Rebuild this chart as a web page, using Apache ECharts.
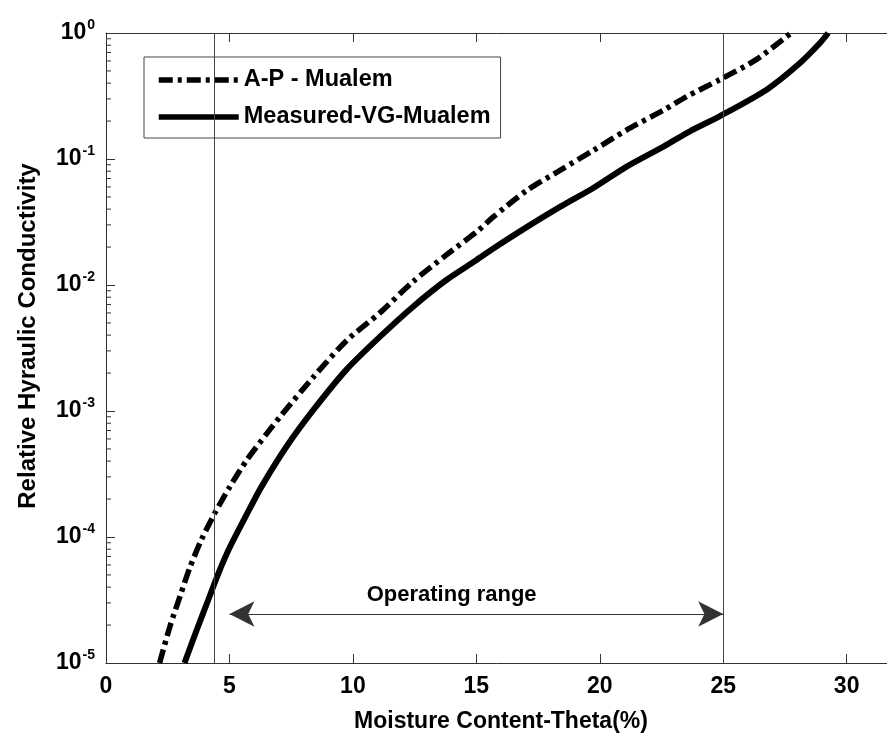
<!DOCTYPE html>
<html>
<head>
<meta charset="utf-8">
<script src="https://cdn.jsdelivr.net/npm/echarts@6/dist/echarts.min.js"></script>
<style>
  html, body { margin: 0; padding: 0; background: #fff; }
  #chart { width: 887px; height: 734px; }
</style>
</head>
<body>
<div id="chart"></div>
<script>
// Relative hydraulic conductivity vs. volumetric moisture content
const seriesNames = ['A-P - Mualem', 'Measured-VG-Mualem'];

// A-P - Mualem curve: moisture content (%) and relative conductivity
const thetaAP = [2.17, 2.59, 3.0, 3.4, 3.87, 4.41, 5.02, 5.7, 6.51, 7.05, 8.4, 9.75, 11.1, 12.45, 13.8, 15.0, 15.69, 17.04, 18.39, 19.74, 21.09, 22.6, 23.52, 24.87, 26.35, 27.75];
const kAP     = [1.0e-5, 1.95e-5, 3.39e-5, 5.75e-5, 9.55e-5, 1.55e-4, 2.51e-4, 4.07e-4, 6.61e-4, 9.0e-4, 1.86e-3, 3.63e-3, 6.03e-3, 1.07e-2, 1.74e-2, 2.63e-2, 3.47e-2, 5.62e-2, 8.13e-2, 0.117, 0.170, 0.245, 0.313, 0.427, 0.617, 1.0];

// Measured-VG-Mualem curve
const thetaVG = [3.18, 3.67, 4.14, 4.55, 5.02, 5.7, 6.3, 7.32, 8.4, 9.75, 11.1, 12.45, 13.8, 15.01, 15.69, 17.04, 18.39, 19.74, 21.09, 22.6, 23.65, 24.87, 26.76, 28.1, 28.92, 29.25];
const kVG     = [1.0e-5, 1.82e-5, 3.16e-5, 5.13e-5, 8.32e-5, 1.51e-4, 2.51e-4, 5.25e-4, 1.02e-3, 2.14e-3, 3.89e-3, 6.76e-3, 1.10e-2, 1.58e-2, 1.95e-2, 2.88e-2, 4.17e-2, 5.89e-2, 8.71e-2, 0.126, 0.166, 0.219, 0.355, 0.575, 0.832, 1.0];

// Operating range: bounding moisture contents and the arrow between them
const rangeBounds = [4.4, 25];
const arrowEnds = [5, 25];
const arrowLevel = 2.45e-5;
const rangeLabel = 'Operating range';
const rangeLabelAt = [14.0, 3.5e-5];

// Axis text
const xTitle = 'Moisture Content-Theta(%)';
const yTitle = 'Relative Hyraulic Conductivity';
const xTicks = [0, 5, 10, 15, 20, 25, 30];
const yDecades = [-5, -4, -3, -2, -1, 0];

const FONT = '"Liberation Sans", Arial, Helvetica, sans-serif';

const zip = (xs, ys) => xs.map((x, i) => [x, ys[i]]);

// Minor tick positions for the log axis (2..9 in each decade)
const minorTicks = [];
for (let d = yDecades[0]; d < yDecades[yDecades.length - 1]; d++) {
  for (let m = 2; m <= 9; m++) minorTicks.push([0, m * Math.pow(10, d)]);
}

const chart = echarts.init(document.getElementById('chart'), null, { renderer: 'canvas' });

const axisLineStyle = { color: '#333', width: 1 };

chart.setOption({
  animation: false,
  backgroundColor: '#fff',
  grid: { left: 106, top: 33, width: 790, height: 630, outerBoundsMode: 'none', containLabel: false },
  legend: {
    data: seriesNames,
    orient: 'vertical',
    left: 144,
    top: 57,
    padding: [11, 10, 9, 12],
    itemWidth: 80,
    itemHeight: 20,
    itemGap: 13,
    backgroundColor: '#fff',
    borderColor: '#444',
    borderWidth: 1,
    lineStyle: { width: 5.5 },
    itemStyle: { opacity: 0 },
    textStyle: { fontFamily: FONT, fontSize: 23.5, fontWeight: 'bold', color: '#000' }
  },
  xAxis: [
    {
      type: 'value',
      min: 0, max: 32, interval: 5,
      name: xTitle,
      nameLocation: 'middle',
      nameGap: 47,
      nameTextStyle: { fontFamily: FONT, fontSize: 23, fontWeight: 'bold', color: '#000' },
      axisLine: { show: true, lineStyle: axisLineStyle },
      axisTick: { show: true, inside: true, length: 9, lineStyle: axisLineStyle },
      axisLabel: {
        margin: 12,
        fontFamily: FONT, fontSize: 23, fontWeight: 'bold', color: '#000',
        formatter: v => (xTicks.indexOf(v) >= 0 ? String(v) : '')
      },
      splitLine: { show: false }
    },
    {
      type: 'value',
      position: 'top',
      min: 0, max: 32, interval: 5,
      axisLine: { show: true, lineStyle: axisLineStyle },
      axisTick: { show: true, inside: true, length: 9, lineStyle: axisLineStyle },
      axisLabel: { show: false },
      splitLine: { show: false }
    }
  ],
  yAxis: {
    type: 'log',
    logBase: 10,
    min: 1e-5, max: 1,
    name: yTitle,
    nameLocation: 'middle',
    nameGap: 66,
    nameTextStyle: { fontFamily: FONT, fontSize: 24, fontWeight: 'bold', color: '#000', padding: [0, 0, 0, 24] },
    axisLine: { show: true, lineStyle: axisLineStyle },
    axisTick: { show: true, inside: true, length: 9, lineStyle: axisLineStyle },
    axisLabel: {
      margin: 11,
      showMinLabel: true,
      showMaxLabel: true,
      formatter: v => '{b|10}{s|' + Math.round(Math.log10(v)) + '}',
      rich: {
        b: { fontFamily: FONT, fontSize: 23, fontWeight: 'bold', color: '#000' },
        s: { fontFamily: FONT, fontSize: 14, fontWeight: 'bold', color: '#000', padding: [0, 0, 16, 1] }
      }
    },
    splitLine: { show: false }
  },
  series: [
    {
      // boundaries of the operating range, arrow and its caption
      type: 'scatter',
      z: 1,
      symbolSize: 0,
      silent: true,
      itemStyle: { opacity: 1 },
      data: [rangeLabelAt],
      label: {
        show: true,
        position: 'inside',
        formatter: rangeLabel,
        opacity: 1,
        fontFamily: FONT, fontSize: 22, fontWeight: 'bold', color: '#000'
      },
      markLine: {
        silent: true,
        animation: false,
        symbol: 'none',
        label: { show: false },
        data: [
          { xAxis: rangeBounds[0], lineStyle: { color: '#444', width: 1, type: 'solid' } },
          { xAxis: rangeBounds[1], lineStyle: { color: '#444', width: 1, type: 'solid' } },
          [
            { coord: [arrowEnds[0], arrowLevel], symbol: 'arrow', symbolSize: [19, 25] },
            { coord: [arrowEnds[1], arrowLevel], symbol: 'arrow', symbolSize: [19, 25] }
          ]
        ],
        lineStyle: { color: '#333', width: 1, type: 'solid' },
        itemStyle: { color: '#000' }
      }
    },
    {
      // minor ticks of the logarithmic axis
      type: 'custom',
      z: 5,
      silent: true,
      clip: false,
      encode: { x: 0, y: 1 },
      data: minorTicks,
      renderItem: (params, api) => {
        const p = api.coord([api.value(0), api.value(1)]);
        return {
          type: 'line',
          shape: { x1: p[0], y1: p[1], x2: p[0] + 5, y2: p[1] },
          style: { stroke: '#333', lineWidth: 1, fill: null }
        };
      }
    },
    {
      name: seriesNames[0],
      type: 'line',
      z: 3,
      smooth: 0.25,
      symbol: 'none',
      data: zip(thetaAP, kAP),
      lineStyle: { color: '#000', width: 5.5, type: [14, 5, 4, 5], cap: 'butt' },
      itemStyle: { color: '#000' }
    },
    {
      name: seriesNames[1],
      type: 'line',
      z: 3,
      smooth: 0.25,
      symbol: 'none',
      data: zip(thetaVG, kVG),
      lineStyle: { color: '#000', width: 6, type: 'solid' },
      itemStyle: { color: '#000' }
    }
  ]
});
</script>
</body>
</html>
